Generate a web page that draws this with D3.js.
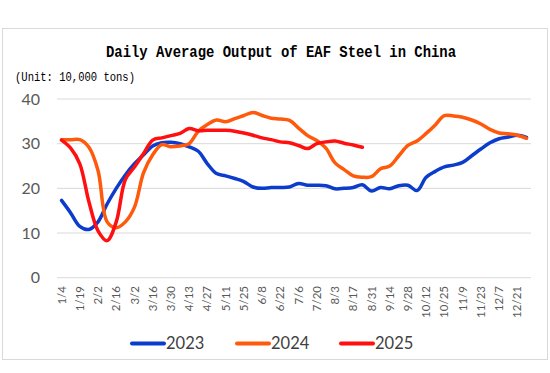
<!DOCTYPE html>
<html>
<head>
<meta charset="utf-8">
<script src="https://cdn.jsdelivr.net/npm/d3@7"></script>
<style>
  body { margin: 0; background: #fff; }
</style>
</head>
<body>
<script>
// weekly categories, every second one is labelled
const weeks = ["1/4","1/12","1/19","1/26","2/2","2/9","2/16","2/23","3/2","3/9","3/16","3/23","3/30","4/6",
  "4/13","4/20","4/27","5/4","5/11","5/18","5/25","6/1","6/8","6/15","6/22","6/29","7/6","7/13","7/20","7/27",
  "8/3","8/10","8/17","8/24","8/31","9/7","9/14","9/21","9/28","10/5","10/12","10/19","10/25","11/2","11/9",
  "11/16","11/23","11/30","12/7","12/14","12/21","12/28"];

const yTicks = [0, 10, 20, 30, 40];

const values2023 = [17.3,14.5,11.5,10.8,12.5,16.5,20,23,25.5,27.5,29.5,30.2,30.3,30,29.3,28.3,25.5,23.3,22.8,22.2,
  21.5,20.3,20.0,20.2,20.2,20.3,21.1,20.7,20.7,20.6,19.9,20.0,20.2,20.8,19.4,20.2,19.9,20.6,20.7,19.5,
  22.5,23.8,24.8,25.2,25.8,27.3,28.8,30.2,31.1,31.5,31.9,31.4];

const values2024 = [30.9,30.9,30.9,29.2,24,12.5,11.2,12.5,15.8,23.5,27.5,29.8,29.3,29.5,30,32.8,34.3,35.3,34.9,35.6,
  36.3,37,36.3,35.7,35.5,35.2,33.5,31.8,30.7,29,25.7,24.2,22.8,22.5,22.6,24.4,25,27.3,29.6,30.6,
  32.3,34.2,36.3,36.2,35.9,35.3,34.4,33.2,32.4,32.2,31.9,31.2];

const values2025 = [30.8,29,25.5,17,10.5,8.3,12.5,22,24.8,27.8,30.8,31.3,31.8,32.3,33.4,32.9,33,33,33,32.8,
  32.4,31.9,31.3,30.9,30.4,30.2,29.6,28.9,30,30.4,30.6,30.1,29.7,29.2];

const series = [
  {name: "2023", color: "#0b3ccc", values: values2023},
  {name: "2024", color: "#ff5a0c", values: values2024},
  {name: "2025", color: "#ff0f0f", values: values2025}
];

const width = 550, height = 373;
const plotLeft = 57, plotRight = 531, plotTop = 99, plotBottom = 277.7;

const svg = d3.select("body").append("svg")
  .attr("width", width)
  .attr("height", height);

// outer frame
svg.append("rect")
  .attr("x", 2.5).attr("y", 28.5)
  .attr("width", 545).attr("height", 331)
  .attr("fill", "#fff")
  .attr("stroke", "#d9d9d9");

svg.append("text")
  .attr("x", 281).attr("y", 57)
  .attr("text-anchor", "middle")
  .attr("font-family", "Liberation Mono, DejaVu Sans Mono, monospace")
  .attr("font-weight", "bold")
  .attr("font-size", 16)
  .attr("textLength", 350)
  .attr("lengthAdjust", "spacingAndGlyphs")
  .attr("fill", "#000")
  .text("Daily Average Output of EAF Steel in China");

svg.append("text")
  .attr("x", 15).attr("y", 81)
  .attr("font-family", "Liberation Mono, DejaVu Sans Mono, monospace")
  .attr("font-size", 12.5)
  .attr("textLength", 120)
  .attr("lengthAdjust", "spacingAndGlyphs")
  .attr("fill", "#000")
  .text("(Unit: 10,000 tons)");

const x = d3.scalePoint()
  .domain(weeks)
  .range([plotLeft, plotRight])
  .padding(0.5);

const y = d3.scaleLinear()
  .domain([0, 40])
  .range([plotBottom, plotTop]);

// grid
svg.append("g")
  .selectAll("line")
  .data(yTicks)
  .enter().append("line")
  .attr("x1", plotLeft).attr("x2", plotRight)
  .attr("y1", d => y(d)).attr("y2", d => y(d))
  .attr("stroke", "#d9d9d9")
  .attr("stroke-width", 1);

// y labels
svg.append("g")
  .selectAll("text")
  .data(yTicks)
  .enter().append("text")
  .attr("x", 40)
  .attr("y", d => y(d))
  .attr("dy", "0.35em")
  .attr("text-anchor", "end")
  .attr("font-family", "Lato, Open Sans, sans-serif")
  .attr("font-size", 16)
  .attr("fill", "#595959")
  .text(d => d);

// x labels, rotated
svg.append("g")
  .selectAll("text")
  .data(weeks.filter((d, i) => i % 2 === 0))
  .enter().append("text")
  .attr("transform", d => `translate(${x(d)},286) rotate(-90)`)
  .attr("dy", "0.35em")
  .attr("text-anchor", "end")
  .attr("font-family", "Lato, Open Sans, sans-serif")
  .attr("font-size", 11.5)
  .attr("fill", "#595959")
  .text(d => d);

const line = d3.line()
  .x((d, i) => x(weeks[i]))
  .y(d => y(d))
  .curve(d3.curveCatmullRom.alpha(0.5));

svg.append("g")
  .selectAll("path")
  .data(series)
  .enter().append("path")
  .attr("d", d => line(d.values))
  .attr("fill", "none")
  .attr("stroke", d => d.color)
  .attr("stroke-width", 3.5)
  .attr("stroke-linejoin", "round")
  .attr("stroke-linecap", "round");

// legend
const legendX = [132, 237, 341];
const legend = svg.append("g")
  .selectAll("g")
  .data(series)
  .enter().append("g")
  .attr("transform", (d, i) => `translate(${legendX[i]},343.5)`);

legend.append("line")
  .attr("x1", 0).attr("x2", 32)
  .attr("stroke", d => d.color)
  .attr("stroke-width", 4)
  .attr("stroke-linecap", "round");

legend.append("text")
  .attr("x", 34)
  .attr("dy", "0.35em")
  .attr("font-family", "Lato, Open Sans, sans-serif")
  .attr("font-size", 16.5)
  .attr("fill", "#404040")
  .text(d => d.name);
</script>
</body>
</html>
